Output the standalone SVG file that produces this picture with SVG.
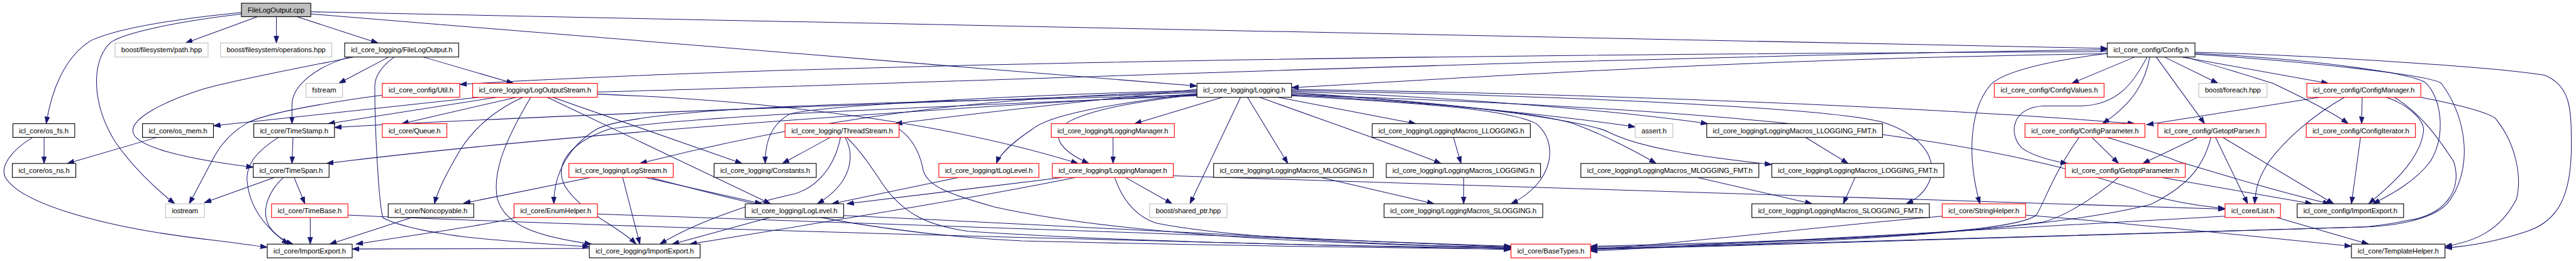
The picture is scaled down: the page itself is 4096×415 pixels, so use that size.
<svg xmlns="http://www.w3.org/2000/svg" width="4096" height="415" viewBox="0 0 4096 415">
<style>
.nd rect{fill:#fff;stroke:#000;stroke-width:1.3}
.rd rect{fill:#fff;stroke:#ff0000;stroke-width:1.3}
.gr rect{fill:#fff;stroke:#bfbfbf;stroke-width:1.3}
.rt rect{fill:#bfbfbf;stroke:#000;stroke-width:1.3}
text{font-family:"Liberation Sans",Arial,sans-serif;font-size:13.3px;fill:#000;text-anchor:middle}
.e path{fill:none;stroke:#191970;stroke-width:1.2;marker-end:url(#a)}
</style>
<defs>
<marker id="a" markerWidth="14" markerHeight="10" refX="13" refY="5" orient="auto" markerUnits="userSpaceOnUse"><path d="M0,0.5 L13,5 L0,9.5 z" fill="#191970" stroke="#191970" stroke-width="1"/></marker>
</defs>
<rect width="4096" height="415" fill="#fff"/>
<g transform="scale(0.855)">
<g id="edges" class="e">
<path d="M479,31 L345,80"/>
<path d="M514,31 L514,80"/>
<path d="M552,31 L703,80"/>
<path d="M578,22 L3919,90"/>
<path d="M578,26 L2226,160"/>
<path d="M449,23 C330,35 220,52 170,75 C120,105 95,170 86,230"/>
<path d="M449,26 C330,40 235,60 207,78 C170,110 168,190 215,265 C250,315 295,355 325,379"/>
<path d="M82,255 L82,304"/>
<path d="M60,256 C20,280 0,310 10,330 C40,380 200,425 400,447 C440,452 470,456 497,460"/>
<path d="M290,256 L125,304"/>
<path d="M723,106 L630,155"/>
<path d="M650,106 C585,125 543,160 543,195 L543,230"/>
<path d="M657,106 C560,126 440,148 380,165 C300,190 247,220 247,243 C247,272 340,295 471,311"/>
<path d="M733,106 C712,122 697,140 697,160 C697,250 705,380 712,405 C740,420 800,432 860,440 C950,450 1040,455 1096,459"/>
<path d="M787,106 L955,155"/>
<path d="M711,177 C600,192 500,210 463,227 C430,245 410,270 398,292 L352,379"/>
<path d="M3919,96 C3000,100 1600,112 855,157"/>
<path d="M3919,100 C3300,108 2800,140 2402,163"/>
<path d="M1111,171 C1600,160 2800,110 3919,92"/>
<path d="M890,181 L397,234"/>
<path d="M923,181 L610,230"/>
<path d="M960,181 L747,230"/>
<path d="M972,181 C920,205 880,240 855,280 C835,315 815,350 808,379"/>
<path d="M987,181 C940,260 915,320 925,370 C940,420 1000,440 1100,454"/>
<path d="M1018,181 C1150,245 1300,315 1433,379"/>
<path d="M1028,181 L1380,304"/>
<path d="M1111,175 C1500,190 1800,240 2005,304"/>
<path d="M2226,172 C1600,195 1000,215 622,237"/>
<path d="M2226,175 C1600,210 1000,255 607,304"/>
<path d="M2226,177 C1700,190 1200,195 1110,240 C1060,270 1030,320 1030,379"/>
<path d="M2226,178 C1700,200 1300,215 1133,240 C1060,265 1030,305 1050,345 C1080,395 1150,420 1183,454"/>
<path d="M2226,170 C1900,180 1600,200 1190,304"/>
<path d="M2226,168 C1800,180 1500,200 1467,213 C1430,235 1423,270 1423,304"/>
<path d="M2226,166 C2100,180 1900,200 1665,230"/>
<path d="M2226,174 C2050,195 1950,215 1920,240 C1890,260 1860,285 1853,304"/>
<path d="M2226,176 C2100,190 2030,205 1990,225 C1955,245 1960,275 2025,304"/>
<path d="M2273,181 L2110,230"/>
<path d="M2307,181 L2213,379"/>
<path d="M2320,181 L2395,304"/>
<path d="M2377,181 L2633,230"/>
<path d="M2343,181 C2450,220 2570,260 2680,304"/>
<path d="M2402,170 C2700,180 3000,205 3176,230"/>
<path d="M2402,172 C2600,185 2900,215 3041,236"/>
<path d="M2402,176 C2600,188 2850,205 2927,230 C2980,250 3040,280 3080,304"/>
<path d="M2402,178 C2600,190 2800,200 2857,230 C2900,265 2890,340 2810,379"/>
<path d="M2402,174 C2700,188 2950,225 2990,245 C3050,275 3150,290 3295,306"/>
<path d="M2402,168 C2900,178 3400,200 3500,227 C3620,265 3610,350 3545,379"/>
<path d="M2402,166 C3000,175 3600,200 3970,230"/>
<path d="M2402,177 C3200,200 3700,250 4000,363 C4050,378 4100,384 4138,388"/>
<path d="M3970,106 L3853,155"/>
<path d="M3993,106 C3970,150 3940,197 3867,197 L3800,197 C3740,200 3735,250 3760,275 C3780,290 3810,298 3845,304"/>
<path d="M3998,106 C3990,150 3970,190 3910,230"/>
<path d="M3919,99 C3800,115 3720,135 3700,160 C3660,210 3660,300 3682,379"/>
<path d="M4010,106 L4100,230"/>
<path d="M4025,106 L4125,155"/>
<path d="M4058,106 L4330,155"/>
<path d="M4063,106 C4150,130 4210,150 4227,155 C4290,185 4340,210 4367,230"/>
<path d="M4082,97 C4300,103 4650,125 4733,140 C4780,160 4782,200 4782,270 C4782,360 4760,410 4700,430 C4640,450 4590,458 4547,461"/>
<path d="M4082,99 C4300,110 4480,135 4510,153 C4540,180 4550,250 4520,300 C4490,340 4440,365 4413,379"/>
<path d="M4082,101 C4300,115 4520,140 4540,155 C4590,220 4600,320 4550,380 C4520,410 4450,420 4400,422 C4100,432 3500,450 2958,464"/>
<path d="M4313,181 L3992,232"/>
<path d="M4360,181 C4300,215 4250,260 4220,300 C4200,330 4195,350 4193,379"/>
<path d="M4393,181 L4392,230"/>
<path d="M4438,181 C4480,195 4510,225 4507,245 C4500,300 4440,350 4405,379"/>
<path d="M4453,181 C4500,210 4530,250 4563,300 C4580,350 4550,400 4477,410 C4440,418 4420,420 4400,422 C4100,432 3500,450 2958,462"/>
<path d="M4502,181 C4600,200 4640,215 4643,223 C4680,270 4690,330 4680,370 C4650,430 4600,450 4547,458"/>
<path d="M4390,255 L4373,379"/>
<path d="M4088,255 L3985,304"/>
<path d="M4120,255 L4180,379"/>
<path d="M4133,255 L4340,379"/>
<path d="M4112,255 C4100,300 4080,340 4000,380 C3800,430 3400,450 2958,460"/>
<path d="M3890,255 L3940,304"/>
<path d="M3867,255 C3820,320 3800,380 3787,400 C3750,430 3500,445 2958,458"/>
<path d="M3917,255 C3950,265 4000,280 4050,300 C4150,330 4250,360 4333,379"/>
<path d="M4020,330 L4300,379"/>
<path d="M3940,330 C3880,380 3830,405 3800,413 C3600,440 3300,455 2958,463"/>
<path d="M3612,402 C3400,420 3200,445 2958,465"/>
<path d="M3767,400 C3900,410 4100,430 4373,458"/>
<path d="M4138,402 C3800,420 3300,450 2958,467"/>
<path d="M4233,404 L4405,454"/>
<path d="M2182,327 L4138,389"/>
<path d="M1976,330 L1575,379"/>
<path d="M2000,330 C1800,370 1600,402 1283,454"/>
<path d="M2093,330 L2180,379"/>
<path d="M2073,330 C2090,380 2120,405 2150,415 C2300,445 2600,455 2810,462"/>
<path d="M2070,255 L2070,304"/>
<path d="M1782,330 L1547,379"/>
<path d="M1543,256 L1455,304"/>
<path d="M1563,256 C1550,320 1510,355 1467,363 C1400,378 1300,410 1227,454"/>
<path d="M1572,256 C1590,290 1585,340 1520,379"/>
<path d="M1575,256 C1600,280 1620,310 1640,340 C1680,400 1730,420 1800,430 C2100,450 2500,458 2810,461"/>
<path d="M1672,240 C1700,260 1712,290 1717,317 C1725,345 1760,360 1850,385 C2100,440 2500,455 2810,460"/>
<path d="M1098,330 L862,378"/>
<path d="M1158,330 L1190,454"/>
<path d="M1200,330 L1417,379"/>
<path d="M1210,330 C1400,380 1600,433 1900,448 C2300,458 2600,461 2810,463"/>
<path d="M1433,404 L1250,454"/>
<path d="M1569,401 C2000,420 2500,450 2810,459"/>
<path d="M960,404 C900,420 800,432 662,454"/>
<path d="M1111,398 C1500,410 2300,440 2810,458"/>
<path d="M577,404 L577,454"/>
<path d="M647,400 C1200,425 2200,450 2810,464"/>
<path d="M767,404 L613,454"/>
<path d="M1096,462 L655,463"/>
<path d="M545,255 L543,304"/>
<path d="M517,256 C480,280 455,305 460,340 C465,390 500,430 537,454"/>
<path d="M547,330 L567,379"/>
<path d="M527,330 C500,355 485,390 500,420 C510,435 525,447 545,454"/>
<path d="M510,330 L380,377"/>
<path d="M2457,330 L2667,379"/>
<path d="M2722,330 L2722,379"/>
<path d="M2703,255 L2717,304"/>
<path d="M3357,255 L3437,304"/>
<path d="M3450,330 L3428,379"/>
<path d="M3157,330 L3370,379"/>
</g>
<g id="cpp" class="rt"><rect x="449" y="6" width="129" height="25"/><text x="513.5" y="23" textLength="106">FileLogOutput.cpp</text></g>
<g id="path" class="gr"><rect x="214" y="80" width="173" height="26"/><text x="300.5" y="97.5" textLength="150">boost/filesystem/path.hpp</text></g>
<g id="ops" class="gr"><rect x="410" y="80" width="207" height="26"/><text x="513.5" y="97.5" textLength="184">boost/filesystem/operations.hpp</text></g>
<g id="flo" class="nd"><rect x="641" y="80" width="212" height="26"/><text x="747" y="97.5" textLength="189">icl_core_logging/FileLogOutput.h</text></g>
<g id="cfg" class="nd"><rect x="3919" y="80" width="163" height="26"/><text x="4000.5" y="97.5" textLength="140">icl_core_config/Config.h</text></g>
<g id="fstream" class="gr"><rect x="569" y="155" width="68" height="26"/><text x="603" y="172.5" textLength="45">fstream</text></g>
<g id="util" class="rd"><rect x="711" y="155" width="144" height="26"/><text x="783" y="172.5" textLength="121">icl_core_config/Util.h</text></g>
<g id="los" class="rd"><rect x="879" y="155" width="232" height="26"/><text x="995" y="172.5" textLength="209">icl_core_logging/LogOutputStream.h</text></g>
<g id="logging" class="nd"><rect x="2226" y="155" width="176" height="26"/><text x="2314" y="172.5" textLength="153">icl_core_logging/Logging.h</text></g>
<g id="cvals" class="rd"><rect x="3709" y="155" width="204" height="26"/><text x="3811" y="172.5" textLength="181">icl_core_config/ConfigValues.h</text></g>
<g id="foreach" class="gr"><rect x="4089" y="155" width="127" height="26"/><text x="4152.5" y="172.5" textLength="104">boost/foreach.hpp</text></g>
<g id="cmgr" class="rd"><rect x="4290" y="155" width="212" height="26"/><text x="4396" y="172.5" textLength="189">icl_core_config/ConfigManager.h</text></g>
<g id="osfs" class="nd"><rect x="24" y="230" width="115" height="25.5"/><text x="81.5" y="247.5" textLength="92">icl_core/os_fs.h</text></g>
<g id="osmem" class="nd"><rect x="265" y="230" width="132" height="25.5"/><text x="331" y="247.5" textLength="109">icl_core/os_mem.h</text></g>
<g id="tstamp" class="nd"><rect x="472" y="230" width="150" height="25.5"/><text x="547" y="247.5" textLength="127">icl_core/TimeStamp.h</text></g>
<g id="queue" class="rd"><rect x="711" y="230" width="120" height="25.5"/><text x="771" y="247.5" textLength="97">icl_core/Queue.h</text></g>
<g id="tstream" class="rd"><rect x="1460" y="230" width="212" height="25.5"/><text x="1566" y="247.5" textLength="189">icl_core_logging/ThreadStream.h</text></g>
<g id="tlm" class="rd"><rect x="1955" y="230" width="229" height="25.5"/><text x="2069.5" y="247.5" textLength="206">icl_core_logging/tLoggingManager.h</text></g>
<g id="ll" class="nd"><rect x="2552" y="230" width="294" height="25.5"/><text x="2699" y="247.5" textLength="271">icl_core_logging/LoggingMacros_LLOGGING.h</text></g>
<g id="assert" class="gr"><rect x="3041" y="230" width="70" height="25.5"/><text x="3076" y="247.5" textLength="47">assert.h</text></g>
<g id="llf" class="nd"><rect x="3174" y="230" width="327" height="25.5"/><text x="3337.5" y="247.5" textLength="304">icl_core_logging/LoggingMacros_LLOGGING_FMT.h</text></g>
<g id="cparam" class="rd"><rect x="3766" y="230" width="223" height="25.5"/><text x="3877.5" y="247.5" textLength="200">icl_core_config/ConfigParameter.h</text></g>
<g id="gparser" class="rd"><rect x="4013" y="230" width="201" height="25.5"/><text x="4113.5" y="247.5" textLength="178">icl_core_config/GetoptParser.h</text></g>
<g id="citer" class="rd"><rect x="4289" y="230" width="203" height="25.5"/><text x="4390.5" y="247.5" textLength="180">icl_core_config/ConfigIterator.h</text></g>
<g id="osns" class="nd"><rect x="23" y="304" width="118" height="26"/><text x="82" y="321.5" textLength="95">icl_core/os_ns.h</text></g>
<g id="tspan" class="nd"><rect x="471" y="304" width="141" height="26"/><text x="541.5" y="321.5" textLength="118">icl_core/TimeSpan.h</text></g>
<g id="lstream" class="rd"><rect x="1058" y="304" width="194" height="26"/><text x="1155" y="321.5" textLength="171">icl_core_logging/LogStream.h</text></g>
<g id="const" class="nd"><rect x="1328" y="304" width="190" height="26"/><text x="1423" y="321.5" textLength="167">icl_core_logging/Constants.h</text></g>
<g id="tll" class="rd"><rect x="1746" y="304" width="186" height="26"/><text x="1839" y="321.5" textLength="163">icl_core_logging/tLogLevel.h</text></g>
<g id="lm" class="rd"><rect x="1957" y="304" width="225" height="26"/><text x="2069.5" y="321.5" textLength="202">icl_core_logging/LoggingManager.h</text></g>
<g id="ml" class="nd"><rect x="2257" y="304" width="297" height="26"/><text x="2405.5" y="321.5" textLength="274">icl_core_logging/LoggingMacros_MLOGGING.h</text></g>
<g id="lg" class="nd"><rect x="2578" y="304" width="287" height="26"/><text x="2721.5" y="321.5" textLength="264">icl_core_logging/LoggingMacros_LOGGING.h</text></g>
<g id="mlf" class="nd"><rect x="2940" y="304" width="331" height="26"/><text x="3105.5" y="321.5" textLength="308">icl_core_logging/LoggingMacros_MLOGGING_FMT.h</text></g>
<g id="lgf" class="nd"><rect x="3295" y="304" width="320" height="26"/><text x="3455" y="321.5" textLength="297">icl_core_logging/LoggingMacros_LOGGING_FMT.h</text></g>
<g id="gparam" class="rd"><rect x="3841" y="304" width="223" height="26"/><text x="3952.5" y="321.5" textLength="200">icl_core_config/GetoptParameter.h</text></g>
<g id="iostream" class="gr"><rect x="308" y="379" width="72" height="25.5"/><text x="344" y="396.5" textLength="49">iostream</text></g>
<g id="tbase" class="rd"><rect x="505" y="379" width="142" height="25.5"/><text x="576" y="396.5" textLength="119">icl_core/TimeBase.h</text></g>
<g id="noncopy" class="nd"><rect x="722" y="379" width="159" height="25.5"/><text x="801.5" y="396.5" textLength="136">icl_core/Noncopyable.h</text></g>
<g id="enum" class="rd"><rect x="956" y="379" width="155" height="25.5"/><text x="1033.5" y="396.5" textLength="132">icl_core/EnumHelper.h</text></g>
<g id="loglevel" class="nd"><rect x="1386" y="379" width="183" height="25.5"/><text x="1477.5" y="396.5" textLength="160">icl_core_logging/LogLevel.h</text></g>
<g id="shptr" class="gr"><rect x="2138" y="379" width="144" height="25.5"/><text x="2210" y="396.5" textLength="121">boost/shared_ptr.hpp</text></g>
<g id="sl" class="nd"><rect x="2574" y="379" width="295" height="25.5"/><text x="2721.5" y="396.5" textLength="272">icl_core_logging/LoggingMacros_SLOGGING.h</text></g>
<g id="slf" class="nd"><rect x="3258" y="379" width="330" height="25.5"/><text x="3423" y="396.5" textLength="307">icl_core_logging/LoggingMacros_SLOGGING_FMT.h</text></g>
<g id="strh" class="rd"><rect x="3612" y="379" width="155" height="25.5"/><text x="3689.5" y="396.5" textLength="132">icl_core/StringHelper.h</text></g>
<g id="list" class="rd"><rect x="4138" y="379" width="103" height="25.5"/><text x="4189.5" y="396.5" textLength="80">icl_core/List.h</text></g>
<g id="cie" class="nd"><rect x="4272" y="379" width="198" height="25.5"/><text x="4371" y="396.5" textLength="175">icl_core_config/ImportExport.h</text></g>
<g id="cimp" class="nd"><rect x="497" y="454" width="158" height="25.5"/><text x="576" y="471.5" textLength="135">icl_core/ImportExport.h</text></g>
<g id="limp" class="nd"><rect x="1096" y="454" width="206" height="25.5"/><text x="1199" y="471.5" textLength="183">icl_core_logging/ImportExport.h</text></g>
<g id="btypes" class="rd"><rect x="2810" y="454" width="148" height="25.5"/><text x="2884" y="471.5" textLength="125">icl_core/BaseTypes.h</text></g>
<g id="thelper" class="nd"><rect x="4373" y="454" width="174" height="25.5"/><text x="4460" y="471.5" textLength="151">icl_core/TemplateHelper.h</text></g>
</g>
</svg>
